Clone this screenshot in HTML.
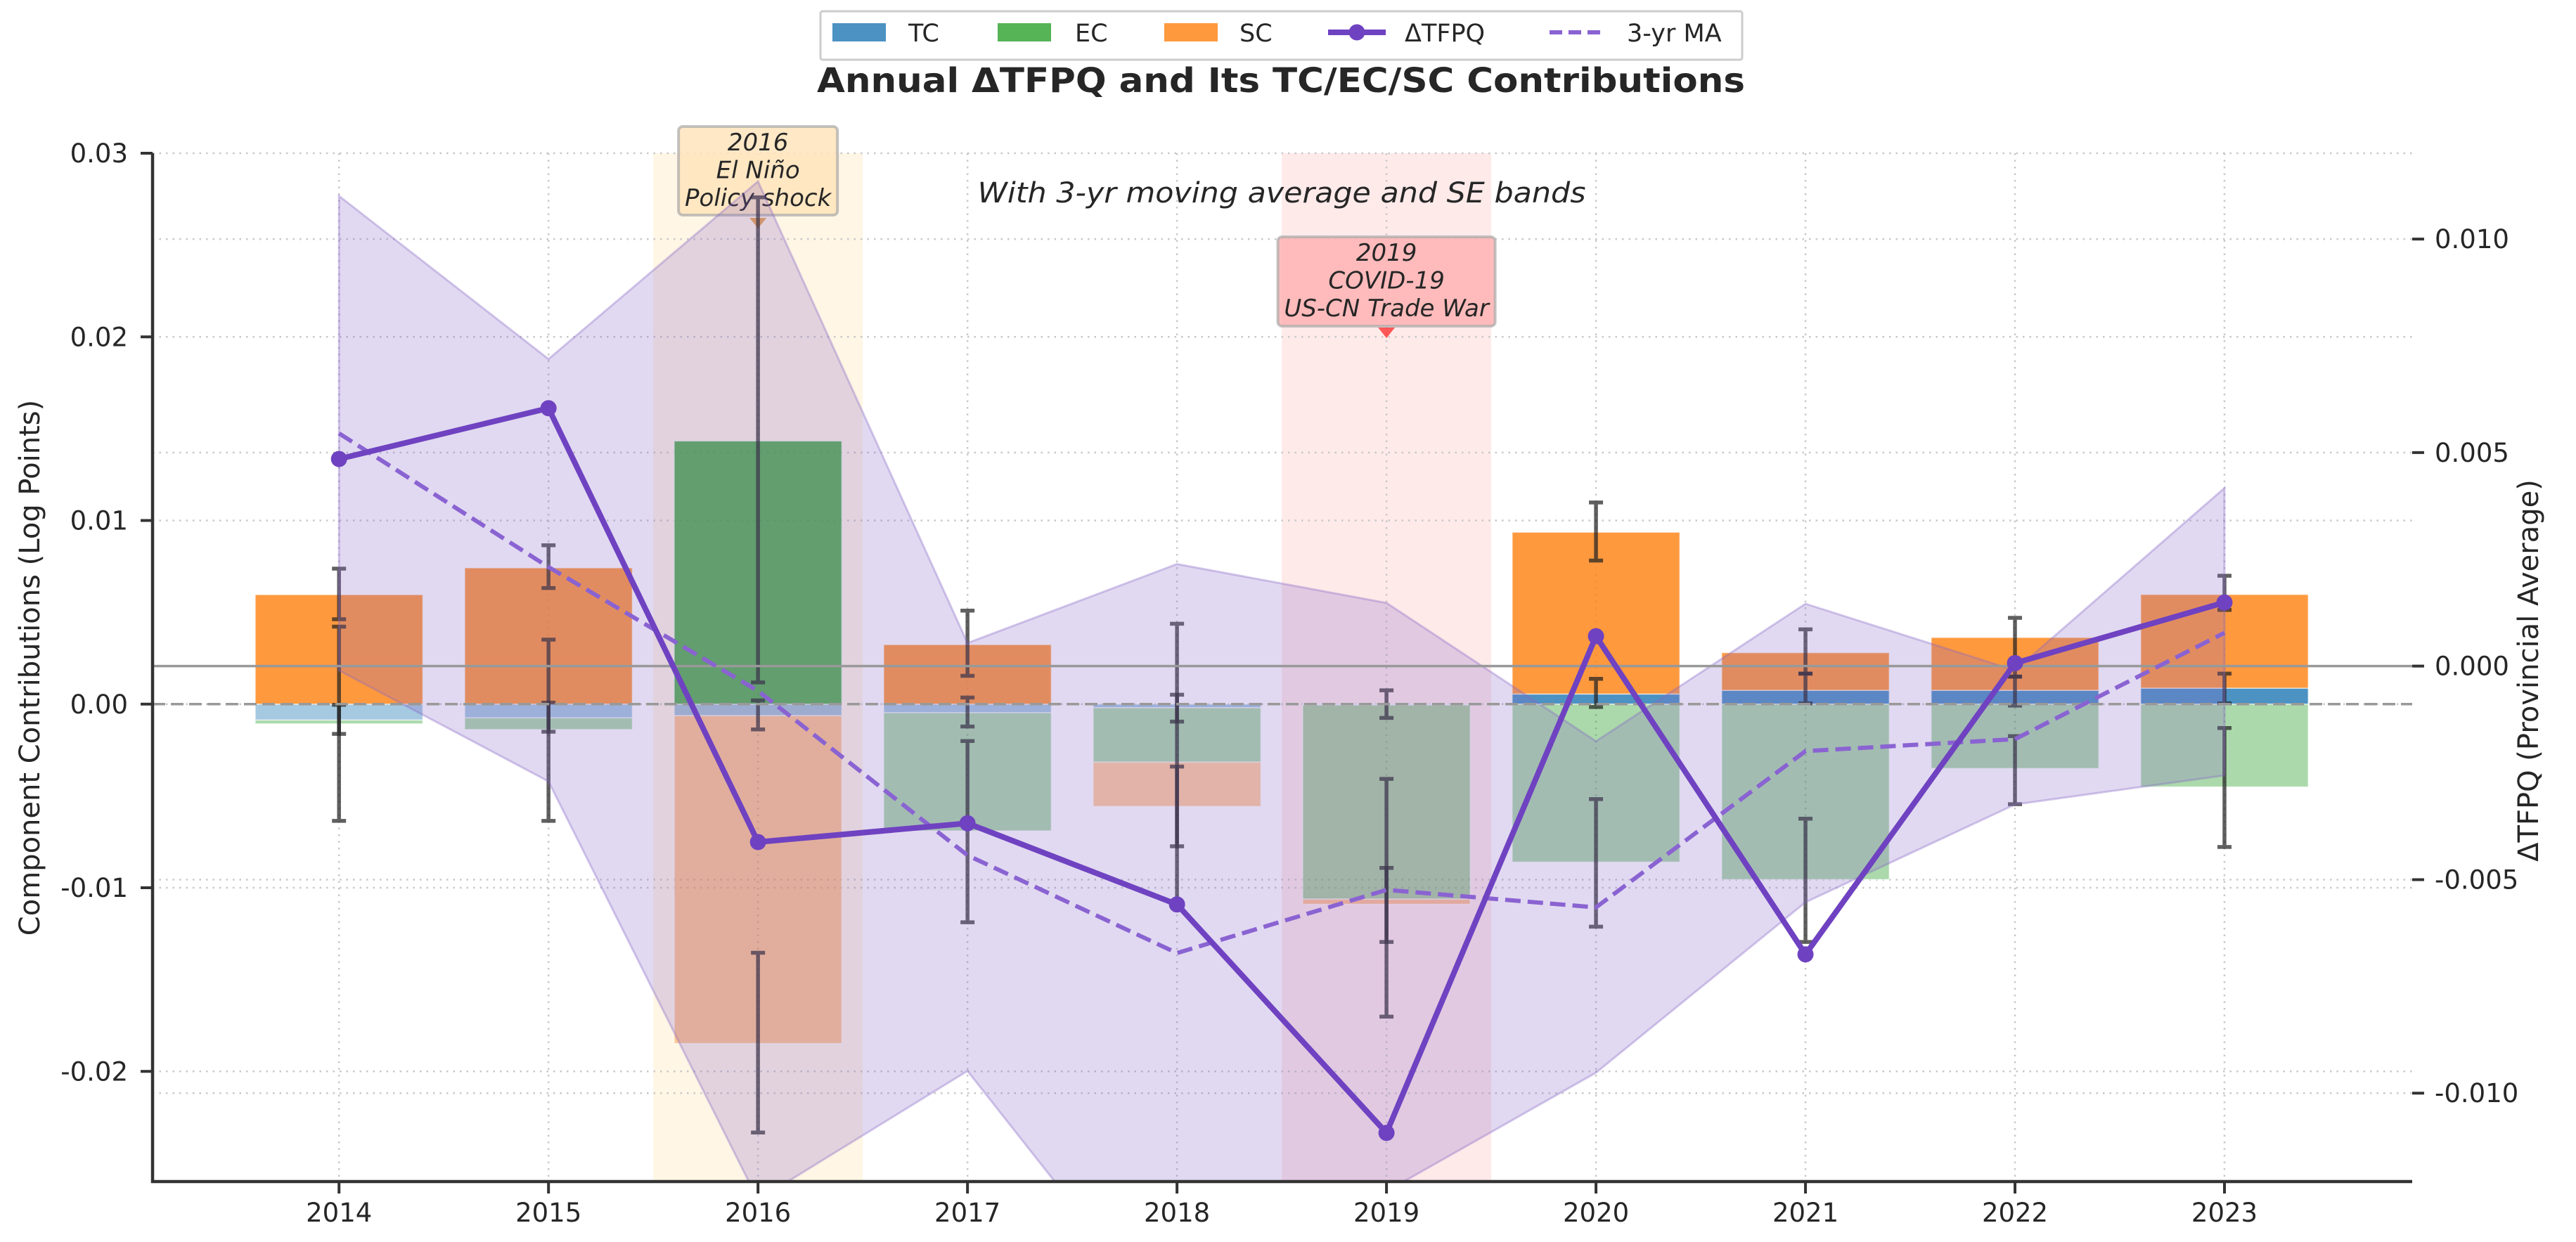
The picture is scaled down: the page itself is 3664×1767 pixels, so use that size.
<!DOCTYPE html>
<html><head><meta charset="utf-8">
<style>
html,body{margin:0;padding:0;background:#fff;width:3664px;height:1767px;overflow:hidden;}
svg{display:block;font-family:"DejaVu Sans","Liberation Sans",sans-serif;}
</style></head>
<body>
<svg id="chart" xmlns="http://www.w3.org/2000/svg" width="3664" height="1767" viewBox="0 0 3664 1767">
<rect x="0" y="0" width="3664" height="1767" fill="#fff"/>
<g id="spans"></g><g id="grid"></g><g id="annots"></g><g id="bars"></g><g id="errs"></g><g id="right"></g><g id="axes"></g>
</svg>
<script>
const years = [2014,2015,2016,2017,2018,2019,2020,2021,2022,2023];
const tcVals = [-0.00087,-0.00075,-0.00063,-0.00047,-0.0002,-0.00005,0.00055,0.00075,0.00075,0.00087];
const ecVals = [-0.0002,-0.00063,0.01433,-0.00643,-0.00296,-0.01057,-0.0086,-0.00955,-0.0035,-0.00451];
const scVals = [0.00596,0.00742,-0.01785,0.00324,-0.00241,-0.00028,0.00881,0.00205,0.00288,0.0051];
const err1Hi = [0.00738,0.00865,0.0276,0.00509,0.00438,0.00075,0.01098,0.00407,0.0047,0.00699];
const err1Lo = [0.00462,0.00632,0.00118,0.00154,-0.00095,-0.00075,0.00782,0.00166,0.0015,0.00513];
const err2Hi = [0.00422,0.00351,0.0002,0.00036,0.00051,-0.00407,0.00138,0.00166,0.0015,0.00166];
const err2Lo = [-0.00162,-0.0015,-0.00138,-0.00122,-0.00774,-0.01295,-0.00016,0.00004,-0.00008,0.00004];
const err3Hi = [-0.00004,0.00008,-0.01354,-0.00201,-0.0034,-0.00892,-0.00517,-0.00624,-0.00174,-0.0013];
const err3Lo = [-0.00636,-0.00636,-0.02333,-0.01188,-0.01078,-0.01702,-0.01212,-0.01295,-0.00545,-0.00778];
const tfpq = [0.00485,0.00604,-0.00412,-0.00368,-0.00558,-0.01093,0.0007,-0.00675,0.00007,0.00149];
const ma3 = [0.00545,0.00232,-0.00058,-0.00443,-0.00672,-0.00524,-0.00565,-0.00199,-0.00171,0.00078];
const bandHi = [0.01101,0.00719,0.01135,0.00054,0.00239,0.00148,-0.00176,0.00146,-0.0001,0.00417];
const bandLo = [-0.0001,-0.0027,-0.0125,-0.00948,-0.0157,-0.0123,-0.00952,-0.00553,-0.00324,-0.00256];
const leftTicks = [0.03,0.02,0.01,0.00,-0.01,-0.02];
const leftTickLabels = ["0.03","0.02","0.01","0.00","-0.01","-0.02"];
const rightTicks = [0.010,0.005,0.000,-0.005,-0.010];
const rightTickLabels = ["0.010","0.005","0.000","-0.005","-0.010"];

const NS="http://www.w3.org/2000/svg";
const PL=217, PR=3431, PT=218, PB=1681;
const X0=2013.11, X1=2023.896;
const L0=-0.026, L1=0.03, R0=-0.01207, R1=0.01201;
function xS(v){return PL+(v-X0)/(X1-X0)*(PR-PL);}
function yL(v){return PT+(L1-v)/(L1-L0)*(PB-PT);}
function yR(v){return PT+(R1-v)/(R1-R0)*(PB-PT);}
function mk(tag,attrs,parent){const e=document.createElementNS(NS,tag);for(const k in attrs)e.setAttribute(k,attrs[k]);document.getElementById(parent).appendChild(e);return e;}
const unit=xS(1)-xS(0);

let s=mk('rect',{x:xS(2015.5),y:PT,width:unit,height:PB-PT,fill:'#ffa500','fill-opacity':0.1},'spans');


s=mk('rect',{x:xS(2018.5),y:PT,width:unit,height:PB-PT,fill:'#ff3030','fill-opacity':0.1},'spans');



leftTicks.forEach(t=>{const g=mk('line',{x1:PL,x2:PR,y1:yL(t),y2:yL(t),stroke:'#c8c8c8','stroke-width':2.5,'stroke-dasharray':'2.5,7'},'grid');

});
rightTicks.forEach(t=>{const g=mk('line',{x1:PL,x2:PR,y1:yR(t),y2:yR(t),stroke:'#c8c8c8','stroke-width':2.5,'stroke-dasharray':'2.5,7'},'grid');

});
years.forEach(y=>{const g=mk('line',{x1:xS(y),x2:xS(y),y1:PT,y2:PB,stroke:'#c8c8c8','stroke-width':2.5,'stroke-dasharray':'2.5,7'},'grid');

});

function annot(cx,y0,h,w,face,lines,arrowColor,arrowY,name){
  const r=mk('rect',{x:cx-w/2,y:y0,width:w,height:h,rx:6,fill:face,'fill-opacity':0.85,stroke:'#aaa','stroke-opacity':0.7,'stroke-width':4},'annots');
  
  
  lines.forEach((t,i)=>{const tx=mk('text',{x:cx,y:y0+34+i*39.5,'text-anchor':'middle','font-size':34,'font-style':'italic',fill:'#262626'},'annots');tx.textContent=t;
  
  });
  const a=mk('path',{d:`M${cx-12},${arrowY} L${cx+12},${arrowY} L${cx},${arrowY+15} Z`,fill:arrowColor,'fill-opacity':0.8},'annots');
  
  
}
annot(xS(2016),180,126,226,'#ffe4bc',['2016','El Niño','Policy shock'],'#e6902a',310,'annotation-2016');
annot(xS(2019),337,127,309,'#ffb3b3',['2019','COVID-19','US-CN Trade War'],'#ff3333',466,'annotation-2019');

const comps=[['tc',tcVals,'#1f77b4'],['ec',ecVals,'#2ca02c'],['sc',scVals,'#ff7f0e']];
years.forEach((yr,i)=>{
  let pos=0,neg=0;
  comps.forEach(([nm,arr,col])=>{
    const v=arr[i];let a,b;
    if(v>=0){a=pos;b=pos+v;pos=b;}else{a=neg;b=neg+v;neg=b;}
    const yt=yL(Math.max(a,b)),yb=yL(Math.min(a,b));
    const r=mk('rect',{x:xS(yr)-0.4*unit,y:yt,width:0.8*unit,height:Math.max(0,yb-yt),fill:col,'fill-opacity':v>=0?0.8:0.4,stroke:'#fff','stroke-width':1.5,'stroke-opacity':0.6},'bars');
    
    
  });
});
[[err1Lo,err1Hi],[err2Lo,err2Hi],[err3Lo,err3Hi]].forEach(([lo,hi],k)=>{
  years.forEach((yr,i)=>{
    const x=xS(yr),y1=yL(hi[i]),y2=yL(lo[i]);
    const e=mk('path',{d:`M${x},${y1} L${x},${y2} M${x-10},${y1} L${x+10},${y1} M${x-10},${y2} L${x+10},${y2}`,stroke:'#222','stroke-opacity':0.72,'stroke-width':5.5,fill:'none'},'errs');
    
    
  });
});

let bp=years.map((y,i)=>`${xS(y)},${yR(bandHi[i])}`).join(' ')+' '+years.slice().reverse().map((y,j)=>`${xS(y)},${yR(bandLo[years.length-1-j])}`).join(' ');
const cp=mk('clipPath',{id:'plotclip'},'right');
const cr=document.createElementNS(NS,'rect');cr.setAttribute('x',PL);cr.setAttribute('y',PT);cr.setAttribute('width',PR-PL);cr.setAttribute('height',PB-PT);cp.appendChild(cr);
const band=mk('polygon',{points:bp,fill:'#8767c7','fill-opacity':0.25,stroke:'#8767c7','stroke-opacity':0.35,'stroke-width':3,'clip-path':'url(#plotclip)'},'right');


const z1=mk('line',{x1:PL,x2:PR,y1:yR(0),y2:yR(0),stroke:'#999','stroke-width':3.5},'right');


const z2=mk('line',{x1:PL,x2:PR,y1:yL(0),y2:yL(0),stroke:'#999','stroke-width':3.5,'stroke-dasharray':'18,8'},'right');


const ma=mk('polyline',{points:years.map((y,i)=>`${xS(y)},${yR(ma3[i])}`).join(' '),fill:'none',stroke:'#8a63d2','stroke-width':6,'stroke-dasharray':'22,10'},'right');


const ln=mk('polyline',{points:years.map((y,i)=>`${xS(y)},${yR(tfpq[i])}`).join(' '),fill:'none',stroke:'#6f42c1','stroke-width':8,'stroke-linejoin':'round'},'right');


years.forEach((y,i)=>{const c=mk('circle',{cx:xS(y),cy:yR(tfpq[i]),r:11.5,fill:'#6f42c1'},'right');

});

function ax(tag,attrs,name,text){const e=mk(tag,attrs,'axes');if(text!==undefined)e.textContent=text;return e;}
ax('path',{d:`M${PL},${PT} L${PL},${PB} L${PR},${PB}`,fill:'none',stroke:'#333','stroke-width':4.5},'axis-spines');
leftTicks.forEach((t,i)=>{ax('line',{x1:PL-17,x2:PL,y1:yL(t),y2:yL(t),stroke:'#333','stroke-width':4},'y-tick-left');
ax('text',{x:182,y:yL(t)+13,'text-anchor':'end','font-size':37,fill:'#262626'},'y-tick-label-left',leftTickLabels[i]);});
rightTicks.forEach((t,i)=>{ax('line',{x1:PR,x2:PR+17,y1:yR(t),y2:yR(t),stroke:'#333','stroke-width':4},'y-tick-right');
ax('text',{x:3463,y:yR(t)+13,'text-anchor':'start','font-size':37,fill:'#262626'},'y-tick-label-right',rightTickLabels[i]);});
years.forEach(y=>{ax('line',{x1:xS(y),x2:xS(y),y1:PB,y2:PB+17,stroke:'#333','stroke-width':4},'x-tick');
ax('text',{x:xS(y),y:1738,'text-anchor':'middle','font-size':37,fill:'#262626'},'x-tick-label',String(y));});
ax('text',{x:0,y:0,transform:'translate(56,950) rotate(-90)','text-anchor':'middle','font-size':40,fill:'#262626'},'y-axis-title-left','Component Contributions (Log Points)');
ax('text',{x:0,y:0,transform:'translate(3610,954) rotate(-90)','text-anchor':'middle','font-size':40,fill:'#262626'},'y-axis-title-right','ΔTFPQ (Provincial Average)');
ax('text',{x:1822,y:131,'text-anchor':'middle','font-size':48,'font-weight':'bold',fill:'#262626',textLength:1320,lengthAdjust:'spacingAndGlyphs'},'chart-title','Annual ΔTFPQ and Its TC/EC/SC Contributions');
ax('text',{x:1823,y:288,'text-anchor':'middle','font-size':40,'font-style':'italic',fill:'#262626',textLength:865,lengthAdjust:'spacingAndGlyphs'},'subtitle','With 3-yr moving average and SE bands');
ax('rect',{x:1167,y:16,width:1311,height:69,fill:'#fff',stroke:'#ccc','stroke-width':3,rx:3},'legend-box');
const lg=[['TC',1184,'#1f77b4','patch'],['EC',1419,'#2ca02c','patch'],['SC',1656,'#ff7f0e','patch'],['ΔTFPQ',1889,'#6f42c1','line'],['3-yr MA',2204,'#8a63d2','dash']];
const lgx=[1292,1529,1763,1998,2314];
lg.forEach(([t,x,c,k],i)=>{
  if(k==='patch')ax('rect',{x:x,y:33,width:76,height:26,fill:c,'fill-opacity':0.8},'legend-entry-'+t.toLowerCase());
  else if(k==='line'){ax('line',{x1:x,x2:x+82,y1:46,y2:46,stroke:c,'stroke-width':8},'legend-entry-tfpq');ax('circle',{cx:x+41,cy:46,r:11.5,fill:c},'legend-marker-tfpq');}
  else ax('line',{x1:x,x2:x+78,y1:46,y2:46,stroke:c,'stroke-width':6,'stroke-dasharray':'18,9'},'legend-entry-ma');
  ax('text',{x:lgx[i],y:59,'font-size':35,fill:'#262626'},'legend-label',t);
});
</script>
</body></html>
